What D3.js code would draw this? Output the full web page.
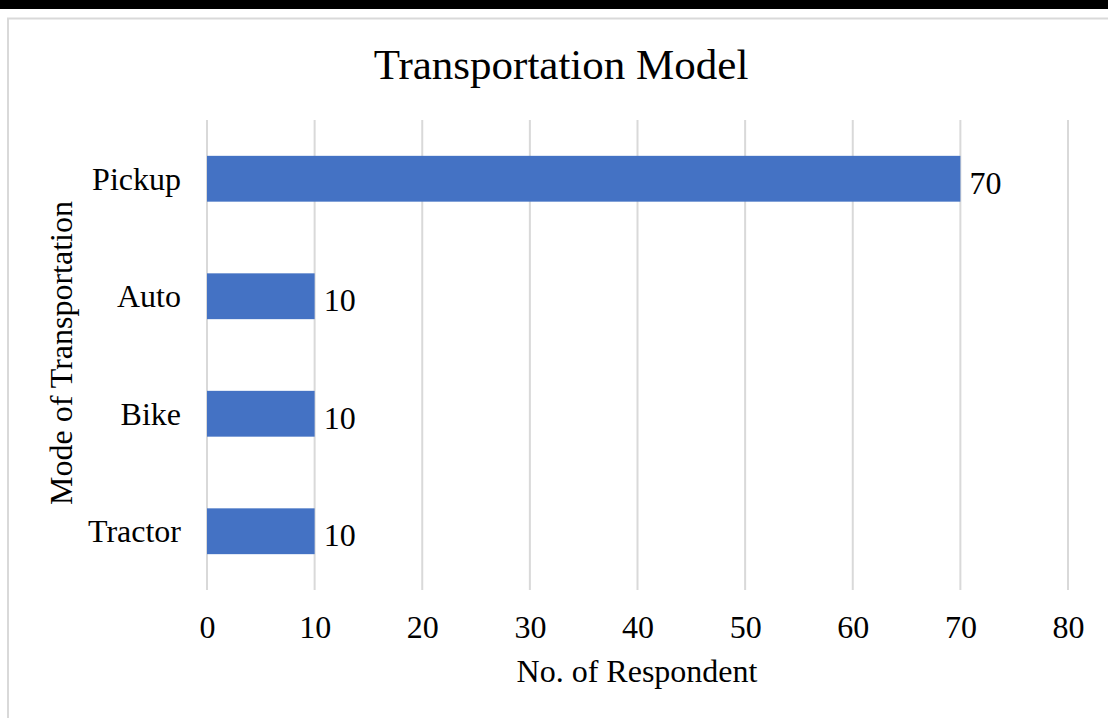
<!DOCTYPE html>
<html>
<head>
<meta charset="utf-8">
<script src="https://cdn.jsdelivr.net/npm/d3@7"></script>
<style>
  html, body { margin: 0; padding: 0; background: #fff; }
  svg { display: block; }
  text { font-family: "Liberation Serif", "Times New Roman", serif; fill: #000; }
</style>
</head>
<body>
<script>
// Respondents by mode of transportation
const categories = ["Pickup", "Auto", "Bike", "Tractor"];
const respondents = [70, 10, 10, 10];
const xTicks = [0, 10, 20, 30, 40, 50, 60, 70, 80];

const W = 1108, H = 718;
const svg = d3.select("body").append("svg").attr("width", W).attr("height", H);

// black band across the top and the chart frame
svg.append("rect").attr("x", 0).attr("y", 0).attr("width", W).attr("height", 9).attr("fill", "#000");
svg.append("path").attr("d", `M8,${H} V18.5 H${W}`).attr("fill", "none").attr("stroke", "#d9d9d9").attr("stroke-width", 2);

const plotLeft = 207, plotRight = 1068, plotTop = 120, plotBottom = 590;
const x = d3.scaleLinear().domain([0, 80]).range([plotLeft, plotRight]);
const y = d3.scaleBand().domain(categories).range([plotTop, plotBottom]).paddingInner(0.61).paddingOuter(0.305);

const labelSize = 32;

// vertical gridlines
svg.append("g").selectAll("line").data(xTicks).join("line")
  .attr("x1", d => x(d)).attr("x2", d => x(d))
  .attr("y1", plotTop).attr("y2", plotBottom)
  .attr("stroke", "#d9d9d9").attr("stroke-width", 2);

// bars
svg.append("g").selectAll("rect").data(categories).join("rect")
  .attr("x", x(0))
  .attr("y", c => y(c))
  .attr("width", (c, i) => x(respondents[i]) - x(0))
  .attr("height", y.bandwidth())
  .attr("fill", "#4472C4");

// value labels
svg.append("g").selectAll("text").data(categories).join("text")
  .attr("x", (c, i) => x(respondents[i]) + 9)
  .attr("y", c => y(c) + y.bandwidth() / 2 + 15)
  .attr("font-size", labelSize)
  .text((c, i) => respondents[i]);

// x axis tick labels
const xAxis = d3.axisBottom(x).tickValues(xTicks).tickSize(0).tickPadding(0);
const gx = svg.append("g").attr("transform", `translate(0,${plotBottom})`).call(xAxis);
gx.select(".domain").remove();
gx.selectAll("text").attr("font-size", labelSize).attr("font-family", "Liberation Serif, serif")
  .attr("fill", "#000").attr("dy", 48).attr("y", 0);

// y axis category labels
const yAxis = d3.axisLeft(y).tickSize(0).tickPadding(0);
const gy = svg.append("g").attr("transform", `translate(${plotLeft - 26},0)`).call(yAxis);
gy.select(".domain").remove();
gy.selectAll("text").attr("font-size", labelSize).attr("font-family", "Liberation Serif, serif")
  .attr("fill", "#000").attr("dy", 11);

// titles
svg.append("text").attr("x", 561).attr("y", 79).attr("text-anchor", "middle")
  .attr("font-size", 43).text("Transportation Model");
svg.append("text").attr("x", 637).attr("y", 682).attr("text-anchor", "middle")
  .attr("font-size", labelSize).text("No. of Respondent");
svg.append("text").attr("transform", "translate(72,353) rotate(-90)").attr("text-anchor", "middle")
  .attr("font-size", labelSize).text("Mode of Transportation");
</script>
</body>
</html>
